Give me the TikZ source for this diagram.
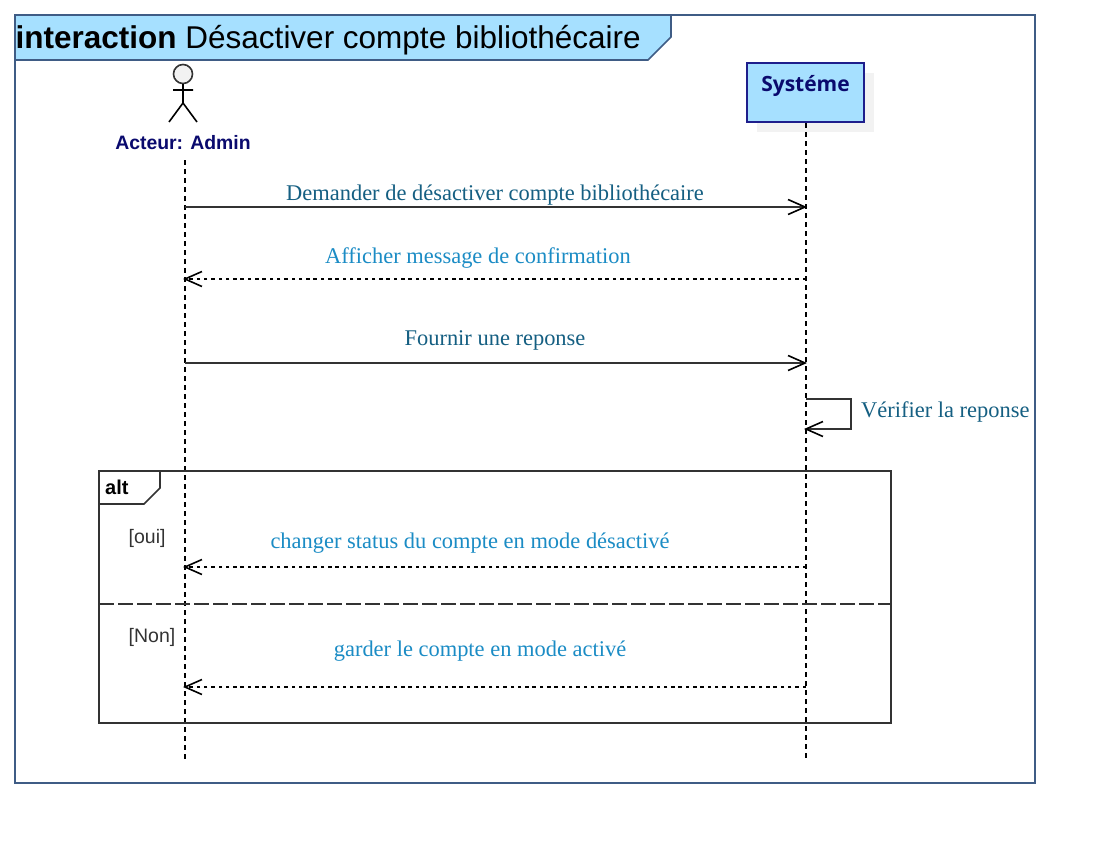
\documentclass[tikz,border=0pt]{standalone}
\usepackage{fontspec}
\setmainfont{Liberation Sans}
\newfontfamily\msgfont{Liberation Serif}
\newfontfamily\boxfont{Open Sans}
\usetikzlibrary{arrows.meta}
\definecolor{framecol}{HTML}{3F5C85}
\definecolor{titlecol}{HTML}{A6E0FF}
\definecolor{navycol}{HTML}{0A0A6E}
\definecolor{boxcol}{HTML}{1E1E8C}
\definecolor{shadowcol}{HTML}{F2F2F2}
\definecolor{synccol}{HTML}{155F82}
\definecolor{replycol}{HTML}{1B8CC5}
\definecolor{linecol}{HTML}{333333}
\tikzset{
	lifeline/.style={black,line width=1.2pt,dash pattern=on 4.6pt off 4.4pt},
	sync/.style={->,linecol,line width=1.6pt},
	reply/.style={->,black,line width=1.2pt,dash pattern=on 3.5pt off 3.8pt},
	synctext/.style={inner sep=0pt,text=synccol,font=\msgfont\fontsize{22.45}{23}\selectfont},
	replytext/.style={inner sep=0pt,text=replycol,font=\msgfont\fontsize{22.45}{23}\selectfont},
	guard/.style={inner sep=0pt,anchor=west,text=linecol,font=\fontsize{19.5}{20}\selectfont}
}
\begin{document}
\begin{tikzpicture}[x=1pt,y=-1pt,>={Straight Barb[length=17pt,width=15pt,line width=1.6pt,black]}]
	\useasboundingbox(0,0)rectangle(1107,843);
	\fill[white](0,0)rectangle(1107,843);
	% frame and title
	\draw[framecol,line width=2pt](15,15)rectangle(1035,783);
	\draw[framecol,fill=titlecol,line width=1.6pt](15,15)--(671,15)--(671,37)--(648,60)--(15,60)--cycle;
	\node[inner sep=0pt,anchor=base west,font=\fontsize{31.5}{32}\selectfont](title)at(15.5,48.5){\textbf{interaction} Désactiver compte bibliothécaire};
	% actor
	\draw[linecol,fill=shadowcol,line width=1.6pt](183,74)circle(9.5pt);
	\draw[black,line width=1.6pt](173,90)--(193,90) (183,84)--(183,103) (169,122)--(183,103)--(197,122);
	\node[inner sep=0pt,text=navycol,font=\bfseries\fontsize{19.4}{20}\selectfont](admin)at(183,142.5){Acteur: Admin};
	% system box
	\fill[shadowcol](757,73)rectangle(874,132);
	\node[draw=boxcol,fill=titlecol,line width=2pt,minimum width=117pt,minimum height=59pt,inner sep=0pt,anchor=north west](systeme)at(746,62){};
	\node[inner sep=0pt,text=navycol,font=\boxfont\bfseries\fontsize{21}{21}\selectfont](systemetext)at(805.5,86){Systéme};
	% lifelines
	\coordinate(admintop)at(185,160);
	\coordinate(adminend)at(185,760);
	\coordinate(systop)at(806,123);
	\coordinate(sysend)at(806,758);
	\draw[lifeline](admintop)--(adminend);
	\draw[lifeline](systop)--(sysend);
	% messages
	\coordinate(a1)at(185,207);\coordinate(s1)at(807,207);
	\coordinate(s2)at(806,279);\coordinate(a2)at(183,279);
	\coordinate(a3)at(185,363);\coordinate(s3)at(807,363);
	\coordinate(s4)at(806,399);\coordinate(s5)at(804,429);
	\coordinate(s6)at(806,567);\coordinate(a6)at(183,567);
	\coordinate(s7)at(806,687);\coordinate(a7)at(183,687);
	\draw[sync](a1)--(s1);
	\node[synctext](m1)at(495,195){Demander de désactiver compte bibliothécaire};
	\draw[reply](s2)--(a2);
	\node[replytext](m2)at(478,258){Afficher message de confirmation};
	\draw[sync](a3)--(s3);
	\node[synctext](m3)at(495,340){Fournir une reponse};
	\draw[sync](s4)-|(851,429)--(s5);
	\node[synctext,anchor=west](m4)at(861,412){Vérifier la reponse};
	% alt fragment
	\draw[linecol,line width=1.6pt](99,471)rectangle(891,723);
	\draw[linecol,line width=1.6pt](99,504)--(144,504)--(160,488)--(160,471);
	\node[inner sep=0pt,anchor=west,text=black,font=\bfseries\fontsize{20}{20}\selectfont](alt)at(105,487){alt};
	\node[guard](oui)at(128.5,538.5){[oui]};
	\draw[reply](s6)--(a6);
	\node[replytext](m6)at(470,543){changer status du compte en mode désactivé};
	\draw[linecol,line width=1.6pt,dash pattern=on 15pt off 4pt](99,604)--(891,604);
	\node[guard](non)at(128.5,637.5){[Non]};
	\draw[reply](s7)--(a7);
	\node[replytext](m7)at(480,651){garder le compte en mode activé};
\end{tikzpicture}
\end{document}
